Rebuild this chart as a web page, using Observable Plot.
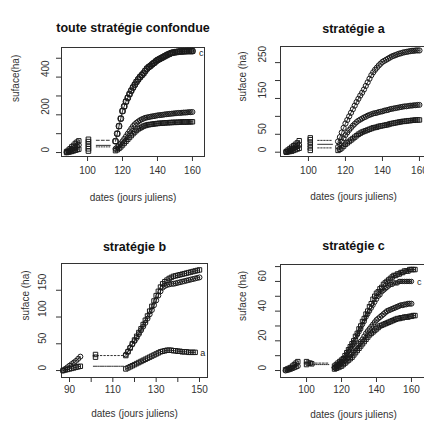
<!DOCTYPE html>
<html>
<head>
<meta charset="utf-8">
<script src="https://cdn.jsdelivr.net/npm/d3@7"></script>
<script src="https://cdn.jsdelivr.net/npm/@observablehq/plot@0.6"></script>
<style>
  body { margin: 0; background: #fff; }
  #wrap { position: relative; width: 424px; height: 422px; overflow: hidden; background: #fff; }
  #wrap > div, #wrap > svg { position: absolute; }
</style>
</head>
<body>
<div id="wrap"></div>
<script>
// ---------- shared ----------
const titles = ["toute stratégie confondue", "stratégie a", "stratégie b", "stratégie c"];
const yLabels = ["suface(ha)", "suface (ha)", "suface (ha)", "suface (ha)"];
const xLabel = "dates (jours juliens)";

const earlyDays = [88, 89, 90, 91, 92, 93, 94, 95];
const earlyDaysB = [87, 88, 89, 90, 91, 92, 93, 94, 95];
const gapDays = [105, 113];

// ---------- panel 1 : toute stratégie confondue ----------
const days1 = d3.range(116, 161);
const tout_top = [60,100,140,180,220,245,270,290,310,328,345,360,375,388,400,410,420,433,445,453,460,468,475,483,490,495,500,505,510,515,520,524,528,530,532,533,535,536,536,537,537,538,538,538,538];
const tout_mid = [20,28,38,48,60,73,86,100,113,127,140,150,158,165,171,176,180,184,186,188,190,192,193,195,197,198,199,200,202,203,204,205,206,207,208,209,210,210,211,212,212,213,214,214,215];
const tout_low = [10,15,22,30,40,50,60,70,80,90,100,109,117,125,130,135,140,143,146,148,149,150,152,153,154,155,155,156,157,158,158,159,159,160,160,160,161,161,162,162,162,162,163,163,163];
const tout_e1 = [5,12,20,30,38,48,55,62];
const tout_e2 = [2,6,10,16,22,28,34,40];
const tout_e3 = [0,2,4,6,9,12,15,18];
const tout_cluster = [8,20,32,45,58,70];
const tout_gap = [65,38,30];

// ---------- panel 2 : stratégie a ----------
const days2 = d3.range(116, 161);
const a_top = [30,42,55,68,80,90,100,110,120,130,140,149,158,166,175,185,195,205,215,223,230,236,242,247,252,255,258,261,264,267,269,271,273,275,276,278,279,280,281,282,283,283,284,284,284];
const a_mid = [15,22,30,39,48,55,62,68,74,79,84,88,91,94,97,99,102,104,106,108,109,110,112,113,114,116,117,118,120,121,122,123,124,125,126,127,128,128,129,130,130,131,131,132,132];
const a_low = [5,8,12,17,22,26,30,34,38,42,46,50,53,56,58,60,62,64,66,68,69,70,72,73,74,75,76,77,79,80,81,82,83,84,85,86,86,87,88,88,89,89,90,90,90];
const a_e1 = [2,6,10,14,18,22,26,32];
const a_e2 = [1,3,5,8,11,14,17,20];
const a_e3 = [0,1,2,3,5,7,9,11];
const a_cluster = [5,12,20,28,35,40];
const a_gap = [33,22,12];

// ---------- panel 3 : stratégie b ----------
const days3 = d3.range(116, 151);
const b_top1 = [28,35,42,50,57,64,71,78,86,94,102,111,120,130,140,148,156,162,166,169,172,174,176,177,178,179,180,181,182,183,184,185,186,187,188];
const b_top2 = [30,36,43,49,55,61,68,75,82,89,97,105,113,122,131,140,148,155,158,160,161,162,162,163,164,165,166,167,168,169,170,171,172,173,174];
const days3low = d3.range(116, 149);
const b_low = [3,5,7,9,11,13,15,17,19,21,23,25,27,29,31,33,35,36,37,38,38,38,37,37,36,36,35,35,35,34,34,34,34];
const b_e1 = [0,3,6,9,12,15,18,22,26];
const b_e2 = [0,1,2,3,4,5,6,7,8];
const b_cluster = [25,30];
const b_gap = [28,8];
const b_gapDays = [101, 115];

// ---------- panel 4 : stratégie c ----------
const days4 = d3.range(116, 163);
const c_top1 = [3,4,5,6,7,8,10,12,14,16,18,20,23,25,28,30,33,35,38,40,43,45,48,50,52,53,55,56,58,59,60,61,62,63,64,64,65,65,66,66,67,67,67,68,68,68,68];
const c_top2 = [2,3,4,5,6,8,9,11,13,15,17,19,21,24,26,28,31,33,36,38,40,42,44,46,48,50,51,53,54,55,56,57,58,58,59,59,59,60,60,60,60,60,60,60,60];
const c_mid = [2,2.5,3,4,5,6,7,8,9,10.5,12,13.5,15,16.5,18,19.5,21,23,25,26.5,28,29.5,31,32.5,34,35,36,37,38,39,40,40.5,41,41.5,42,42.5,43,43.5,44,44,44.5,44.5,45,45,45];
const c_low = [1,1.5,2,2.5,3,4,5,6,7,8,9,10.5,12,13.5,15,16.5,18,19.5,21,22.5,24,25,26,27,28,29,30,30.5,31,31.5,32,32.5,33,33.5,34,34.5,35,35,35.5,35.5,36,36,36,36.5,36.5,37,37];
const c_e1 = [0.5,1,1.5,2,3,4,5,6];
const c_e2 = [0,0.3,0.6,1,1.5,2,2.5,3];
const c_clusterDays = [100, 100, 101, 102, 103];
const c_cluster = [6, 4, 5, 5, 4.5];
const c_gap = [5, 4];

// ---------- helpers ----------
const INK = "#1a1a1a";
function rows(days, vals) { return vals.map((v, i) => ({x: days[i], y: v})); }

function seriesMarks(list) {
  const marks = [];
  for (const s of list) {
    const data = rows(s.days, s.vals);
    if (s.line !== false) marks.push(Plot.line(data, {x: "x", y: "y", stroke: INK, strokeWidth: 0.9, strokeDasharray: s.dash}));
    if (s.symbol) marks.push(Plot.dot(data, {x: "x", y: "y", symbol: s.symbol, r: s.r ?? 2.5, stroke: INK, strokeWidth: 1, fill: "none"}));
  }
  return marks;
}
function gapMarks(days, vals, dashes) {
  return vals.map((v, i) => Plot.line(days.map(d => ({x: d, y: v})), {x: "x", y: "y", stroke: INK, strokeWidth: 0.9, strokeDasharray: dashes[i]}));
}

function panel(cfg) {
  const plot = Plot.plot({
    width: cfg.width, height: 211,
    marginTop: cfg.mt, marginLeft: cfg.ml, marginRight: cfg.mr, marginBottom: cfg.mb,
    style: {fontFamily: "Liberation Sans, Arial, sans-serif", fontSize: "10px", color: "#333", background: "transparent", overflow: "visible"},
    x: {domain: cfg.xdom},
    y: {domain: cfg.ydom},
    marks: [
      Plot.frame({stroke: "#333", strokeWidth: 1}),
      Plot.axisX({ticks: cfg.xticks, tickSize: 5, tickPadding: cfg.xPad, fontSize: 10,
        tickFormat: d => cfg.xLabelTicks.includes(d) ? String(d) : "", label: null, stroke: "#333", fill: "#333"}),
      Plot.axisY({ticks: cfg.yticks, tickSize: 5, tickFormat: () => "", label: null, stroke: "#333"}),
      Plot.text(cfg.yLabelTicks, {y: d => d, text: d => String(d), frameAnchor: "left", dx: -cfg.yTickOff, rotate: -90, fontSize: 10, fill: "#333"}),
      Plot.text([cfg.title], {text: d => d, frameAnchor: "top", dy: cfg.titleDy, fontWeight: "bold", fontSize: 12.5, fill: "#111"}),
      Plot.text([yLabels[cfg.idx]], {text: d => d, frameAnchor: "left", dx: -cfg.yLabOff, rotate: -90, fontSize: 10, fill: "#333"}),
      Plot.text([xLabel], {text: d => d, frameAnchor: "bottom", dy: cfg.xLabDy, fontSize: 10, fill: "#333"}),
      ...cfg.marks
    ]
  });
  plot.style.left = cfg.left + "px";
  plot.style.top = cfg.top + "px";
  document.getElementById("wrap").appendChild(plot);
}

// ---------- panel 1 ----------
panel({
  idx: 0, title: titles[0], left: 0, top: 0, width: 212, mt: 47, ml: 61, mr: 8, mb: 55,
  xdom: [85.1, 166.9], ydom: [-21, 557],
  xticks: [100, 120, 140, 160], xLabelTicks: [100, 120, 140, 160],
  yticks: [0, 100, 200, 300, 400, 500], yLabelTicks: [0, 200, 400],
  xPad: 5, yTickOff: 16, yLabOff: 46, titleDy: -24, xLabDy: 44,
  marks: [
    ...seriesMarks([
      {days: days1, vals: tout_low, symbol: "square"},
      {days: days1, vals: tout_mid, symbol: "circle"},
      {days: days1, vals: tout_top, symbol: "square", r: 2.6},
      {days: days1, vals: tout_top, symbol: "circle", r: 3, line: false},
      {days: earlyDays, vals: tout_e1, symbol: "square"},
      {days: earlyDays, vals: tout_e2, symbol: "circle"},
      {days: earlyDays, vals: tout_e3, symbol: "square"},
      {days: tout_cluster.map(() => 100.5), vals: tout_cluster, symbol: "square", line: false, r: 2.6}
    ]),
    ...gapMarks(gapDays, tout_gap, ["3,2", null, "1,1.5"]),
    Plot.text(["c"], {x: 165, y: 527, text: d => d, fontSize: 9, fill: INK})
  ]
});

// ---------- panel 2 ----------
panel({
  idx: 1, title: titles[1], left: 212, top: 0, width: 214, mt: 46, ml: 68, mr: 0, mb: 55,
  xdom: [84.9, 163.8], ydom: [-12, 295],
  xticks: [100, 120, 140, 160], xLabelTicks: [100, 120, 140, 160],
  yticks: [0, 50, 100, 150, 200, 250], yLabelTicks: [0, 50, 150, 250],
  xPad: 5, yTickOff: 18, yLabOff: 38, titleDy: -22, xLabDy: 43,
  marks: [
    ...seriesMarks([
      {days: days2, vals: a_low, symbol: "square"},
      {days: days2, vals: a_mid, symbol: "circle"},
      {days: days2, vals: a_top, symbol: "circle", r: 2.6},
      {days: earlyDays, vals: a_e1, symbol: "square"},
      {days: earlyDays, vals: a_e2, symbol: "circle"},
      {days: earlyDays, vals: a_e3, symbol: "square"},
      {days: a_cluster.map(() => 101), vals: a_cluster, symbol: "square", line: false}
    ]),
    ...gapMarks(gapDays, a_gap, ["1.5,1.5", null, "1.5,1.5"])
  ]
});

// ---------- panel 3 ----------
panel({
  idx: 2, title: titles[2], left: 0, top: 211, width: 212, mt: 52, ml: 61, mr: 5, mb: 45,
  xdom: [86.3, 153.7], ydom: [-13, 200],
  xticks: [90, 100, 110, 120, 130, 140, 150], xLabelTicks: [90, 110, 130, 150],
  yticks: [0, 50, 100, 150], yLabelTicks: [0, 50, 100, 150],
  xPad: 3, yTickOff: 19, yLabOff: 36, titleDy: -21, xLabDy: 39,
  marks: [
    ...seriesMarks([
      {days: days3low, vals: b_low, symbol: "square"},
      {days: days3, vals: b_top2, symbol: "circle"},
      {days: days3, vals: b_top1, symbol: "square"},
      {days: earlyDaysB, vals: b_e1, symbol: "circle"},
      {days: earlyDaysB, vals: b_e2, symbol: "square"},
      {days: b_cluster.map(() => 102), vals: b_cluster, symbol: "square", line: false}
    ]),
    ...gapMarks(b_gapDays, b_gap, ["1.5,2", "4,1,1,1"]),
    Plot.text(["a"], {x: 151.5, y: 33, text: d => d, fontSize: 9, fill: INK})
  ]
});

// ---------- panel 4 ----------
panel({
  idx: 3, title: titles[3], left: 212, top: 211, width: 214, mt: 53, ml: 68, mr: 0, mb: 45,
  xdom: [85.1, 168.6], ydom: [-4.7, 71.4],
  xticks: [100, 120, 140, 160], xLabelTicks: [100, 120, 140, 160],
  yticks: [0, 10, 20, 30, 40, 50, 60, 70], yLabelTicks: [0, 20, 40, 60],
  xPad: 3, yTickOff: 18, yLabOff: 38, titleDy: -23, xLabDy: 40,
  marks: [
    ...seriesMarks([
      {days: days4, vals: c_low, symbol: "square"},
      {days: days4, vals: c_mid, symbol: "circle"},
      {days: days4, vals: c_top2, symbol: "circle", r: 2.2},
      {days: days4, vals: c_top1, symbol: "square"},
      {days: earlyDays, vals: c_e1, symbol: "square"},
      {days: earlyDays, vals: c_e2, symbol: "circle"},
      {days: c_clusterDays, vals: c_cluster, symbol: "square", line: false}
    ]),
    ...gapMarks([103, 113], c_gap, ["2,1.5", "1,1"]),
    Plot.text(["c"], {x: 164.5, y: 59.5, text: d => d, fontSize: 9, fill: INK})
  ]
});
</script>
</body>
</html>
